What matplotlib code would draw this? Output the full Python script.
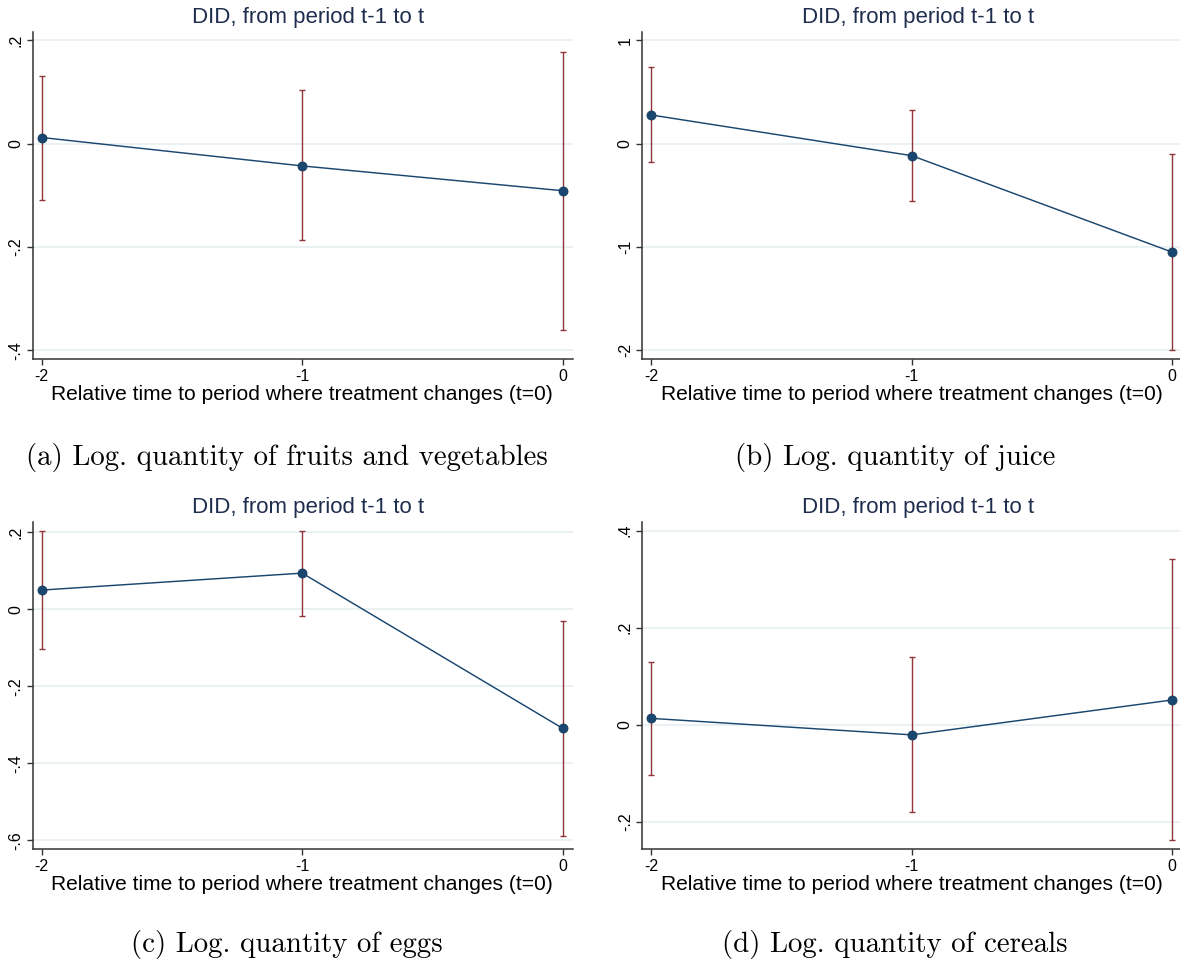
import matplotlib
matplotlib.use("Agg")
import matplotlib.pyplot as plt
from matplotlib.ticker import FixedLocator, FixedFormatter

# Event-time periods (relative to the period where treatment changes)
periods = [-2, -1, 0]
period_labels = ["-2", "-1", "0"]

# DID point estimates and confidence bounds per outcome
fruit_est = [0.012, -0.043, -0.091]
fruit_lo = [-0.109, -0.187, -0.361]
fruit_hi = [0.131, 0.104, 0.178]

juice_est = [0.278, -0.116, -1.051]
juice_lo = [-0.180, -0.558, -1.997]
juice_hi = [0.742, 0.323, -0.100]

eggs_est = [0.050, 0.094, -0.309]
eggs_lo = [-0.104, -0.017, -0.588]
eggs_hi = [0.203, 0.203, -0.031]

cereal_est = [0.013, -0.021, 0.051]
cereal_lo = [-0.103, -0.181, -0.238]
cereal_hi = [0.130, 0.139, 0.341]

# y-axis ticks for each panel
fruit_yticks = [-0.4, -0.2, 0.0, 0.2]
fruit_ylabels = ["-.4", "-.2", "0", ".2"]
juice_yticks = [-2, -1, 0, 1]
juice_ylabels = ["-2", "-1", "0", "1"]
eggs_yticks = [-0.6, -0.4, -0.2, 0.0, 0.2]
eggs_ylabels = ["-.6", "-.4", "-.2", "0", ".2"]
cereal_yticks = [-0.2, 0.0, 0.2, 0.4]
cereal_ylabels = ["-.2", "0", ".2", ".4"]

title_text = "DID, from period t-1 to t"
xlabel_text = "Relative time to period where treatment changes (t=0)"
captions = [
    "(a) Log. quantity of fruits and vegetables",
    "(b) Log. quantity of juice",
    "(c) Log. quantity of eggs",
    "(d) Log. quantity of cereals",
]

W, H = 1180, 967
fig = plt.figure(figsize=(W / 100, H / 100), dpi=100)
fig.patch.set_facecolor("white")

plt.rcParams["font.family"] = ["Liberation Sans", "DejaVu Sans"]

NAVY = "#1a476f"
MAROON = "#90353b"
GRID = "#e4edef"
AXC = "#333333"
TITLEC = "#1f2d4e"

panels = [
    (fruit_est, fruit_lo, fruit_hi, fruit_yticks, fruit_ylabels, (-0.4173, 0.2168)),
    (juice_est, juice_lo, juice_hi, juice_yticks, juice_ylabels, (-2.089, 1.085)),
    (eggs_est, eggs_lo, eggs_hi, eggs_yticks, eggs_ylabels, (-0.623, 0.2275)),
    (cereal_est, cereal_lo, cereal_hi, cereal_yticks, cereal_ylabels, (-0.257, 0.4186)),
]

# pixel geometry of the plot regions
lefts = [32.7, 642.3]
tops = [31.7, 521.7]
pw, ph = 540.0, 327.6
title_base = [23.3, 513.3]
xlabel_base = [400.0, 890.0]
cap_base = [465.0, 952.0]
title_cx = [308.5, 918.0]
xlabel_cx = [302.0, 912.0]
cap_cx = [286.5, 895.0, 286.5, 895.0]

for i, (est, lo, hi, yt, yl, ylim) in enumerate(panels):
    r, c = divmod(i, 2)
    x0, y0 = lefts[c], tops[r]
    ax = fig.add_axes([x0 / W, 1 - (y0 + ph) / H, pw / W, ph / H])
    ax.set_facecolor("white")

    for y in yt:
        ax.axhline(y, color=GRID, lw=1.1, zorder=0)

    yerr = [[e - l for e, l in zip(est, lo)], [h - e for e, h in zip(est, hi)]]
    ax.errorbar(periods, est, yerr=yerr, fmt="none", ecolor=MAROON,
                elinewidth=1.0, capsize=2.3, capthick=1.0, zorder=2)
    ax.plot(periods, est, color=NAVY, lw=1.05, marker="o", markersize=6.5,
            markerfacecolor=NAVY, markeredgecolor="#163a5c",
            markeredgewidth=0.6, zorder=3)

    ax.set_xlim(-2.0345, 0.0385)
    ax.set_ylim(*ylim)
    ax.xaxis.set_major_locator(FixedLocator(periods))
    ax.xaxis.set_major_formatter(FixedFormatter(period_labels))
    ax.yaxis.set_major_locator(FixedLocator(yt))
    ax.yaxis.set_major_formatter(FixedFormatter(yl))

    for s in ["top", "right"]:
        ax.spines[s].set_visible(False)
    for s in ["left", "bottom"]:
        ax.spines[s].set_color(AXC)
        ax.spines[s].set_linewidth(1.1)

    ax.tick_params(axis="both", direction="out", length=4.2, width=1.0,
                   color=AXC, labelsize=11.5, labelcolor="black")
    ax.tick_params(axis="x", pad=3)
    for lab in ax.get_yticklabels():
        lab.set_rotation(90)
        lab.set_va("center")
        lab.set_ha("center")
    ax.tick_params(axis="y", pad=8)

    fig.text(title_cx[c] / W, 1 - title_base[r] / H, title_text,
             ha="center", va="baseline", fontsize=16, color=TITLEC)
    fig.text(xlabel_cx[c] / W, 1 - xlabel_base[r] / H, xlabel_text,
             ha="center", va="baseline", fontsize=15.1, color="black")
    fig.text(cap_cx[i] / W, 1 - cap_base[r] / H, captions[i],
             ha="center", va="baseline", fontsize=20.8, color="black",
             family="cmr10")

fig.savefig("out.png", dpi=100, facecolor="white")
